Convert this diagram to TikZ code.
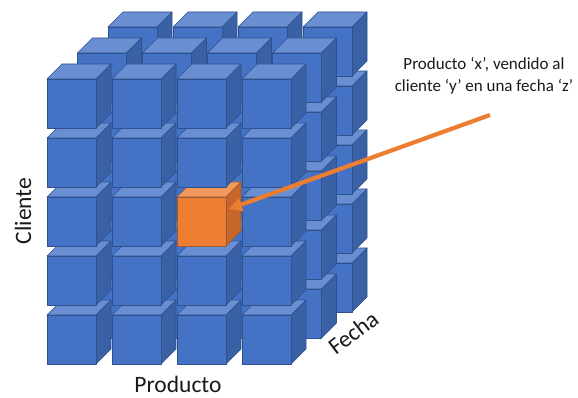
\documentclass[tikz,border=0pt]{standalone}
\usepackage{fontspec}
\setmainfont{Carlito}
\usetikzlibrary{arrows.meta}

\definecolor{cubeFront}{HTML}{4472C4}
\definecolor{cubeTop}{HTML}{6A8ED2}
\definecolor{cubeSide}{HTML}{3A60A6}
\definecolor{cubeEdge}{HTML}{2F528F}
\definecolor{hiFront}{HTML}{ED7D31}
\definecolor{hiTop}{HTML}{F1985A}
\definecolor{hiSide}{HTML}{C6662A}
\definecolor{hiEdge}{HTML}{9A5A35}
\definecolor{labelInk}{HTML}{1A1A1A}

% one block: front face top-left corner at (#1,#2), colours #3 front, #4 top, #5 side, #6 outline
\newcommand\drawblock[6]{%
  \filldraw[draw=#6,fill=#4,line width=0.6pt,line join=round]
    (#1,#2) -- ++(15,-15) -- ++(49,0) -- ++(-15,15) -- cycle;
  \filldraw[draw=#6,fill=#5,line width=0.6pt,line join=round]
    (#1+49,#2) -- ++(15,-15) -- ++(0,49) -- ++(-15,15) -- cycle;
  \filldraw[draw=#6,fill=#3,line width=0.6pt,line join=round]
    (#1,#2) rectangle ++(49,49);
}

\tikzset{
  axislabel/.style={font=\fontsize{23.5}{28}\selectfont, text=labelInk, inner sep=0pt, anchor=base},
  notetext/.style={font=\fontsize{17}{22}\selectfont, text=labelInk, align=center, inner sep=0pt},
  pointer/.style={draw=hiFront, line width=4.2pt,
    -{Triangle[length=13pt,width=13pt]}}
}

\begin{document}
\begin{tikzpicture}[x=1pt,y=-1pt]
\useasboundingbox (0,0) rectangle (578,398);
\fill[white] (0,0) rectangle (578,398);

% 4 x 5 x 3 grid of blocks, painted from the back layer forward,
% bottom rows before upper ones, left columns before right ones
\foreach \k in {2,1,0}{
  \foreach \r in {4,3,2,1,0}{
    \foreach \c in {0,1,2,3}{
      \pgfmathsetmacro\px{47+65*\c+30.5*\k}
      \pgfmathsetmacro\py{79+59*\r-26*\k}
      \ifnum\k\r\c=22
        \drawblock{\px}{\py}{hiFront}{hiTop}{hiSide}{hiEdge}
      \else
        \drawblock{\px}{\py}{cubeFront}{cubeTop}{cubeSide}{cubeEdge}
      \fi
    }
  }
}

% axis labels
\node[axislabel] (lblProducto) at (178,392) {Producto};
\node[axislabel, rotate=90] (lblCliente) at (31,211) {Cliente};
\node[axislabel, rotate=37] (lblFecha) at (358,339) {Fecha};

% note and pointer to the highlighted block
\node[notetext] (note) at (484,76) {Producto ‘x’, vendido al\\cliente ‘y’ en una fecha ‘z’};
\coordinate (tail) at (490,115);
\coordinate (pick) at (229,209);
\draw[pointer] (tail) -- (pick);
\end{tikzpicture}
\end{document}
